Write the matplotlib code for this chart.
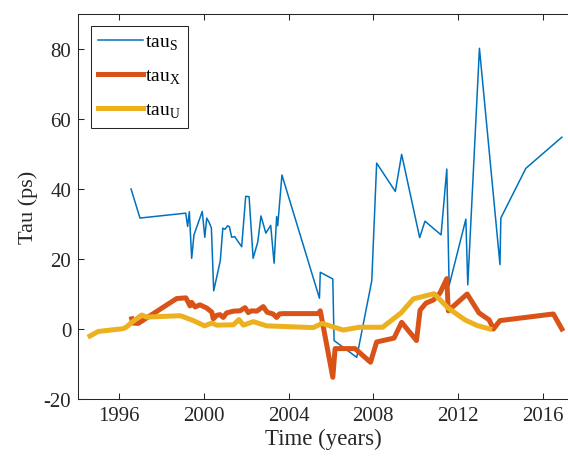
import numpy as np
import matplotlib
matplotlib.use("Agg")
import matplotlib.pyplot as plt

# tau_S (thin blue)
t_s = [1996.57, 1996.99, 1999.15, 1999.24, 1999.32, 1999.43, 1999.54, 1999.93,
       2000.05, 2000.14, 2000.25, 2000.36, 2000.47, 2000.78, 2000.90, 2001.00,
       2001.13, 2001.21, 2001.32, 2001.46, 2001.79, 2001.98, 2002.14, 2002.33,
       2002.55, 2002.70, 2002.93, 2003.16, 2003.32, 2003.44, 2003.49, 2003.69,
       2005.46, 2005.50, 2006.09, 2006.15, 2007.22, 2007.93, 2008.16, 2009.04,
       2009.34, 2010.19, 2010.44, 2011.20, 2011.47, 2011.58, 2012.37, 2012.46,
       2013.01, 2013.98, 2014.02, 2015.20, 2016.90]
tau_s = [40.0, 31.7, 33.1, 29.3, 33.5, 20.2, 26.9, 33.6,
         26.2, 31.7, 30.5, 28.9, 10.9, 19.5, 28.8, 28.5,
         29.5, 29.2, 26.2, 26.4, 23.5, 37.9, 37.8, 20.2,
         24.9, 32.3, 27.4, 29.6, 18.8, 32.1, 29.5, 44.0,
         8.8, 16.2, 14.3, -3.3, -8.1, 13.8, 47.4, 39.3,
         49.9, 26.1, 30.8, 26.9, 45.7, 12.4, 31.4, 12.6,
         80.2, 18.4, 31.7, 45.9, 54.8]

# tau_X (thick orange)
t_x = [1996.60, 1996.64, 1996.91, 1998.72, 1999.16, 1999.35, 1999.43, 1999.59,
       1999.82, 2000.14, 2000.38, 2000.45, 2000.61, 2000.77, 2000.92, 2001.08,
       2001.40, 2001.71, 2001.95, 2002.10, 2002.26, 2002.50, 2002.81, 2002.99,
       2003.27, 2003.44, 2003.57, 2003.76, 2005.41, 2005.50, 2006.09, 2006.20,
       2007.14, 2007.87, 2008.16, 2008.98, 2009.34, 2010.04, 2010.21, 2010.49,
       2010.84, 2011.15, 2011.47, 2011.54, 2012.43, 2012.99, 2013.47, 2013.67,
       2013.98, 2016.50, 2016.90]
tau_x = [2.9, 1.7, 1.6, 8.7, 8.9, 6.6, 7.6, 6.3,
         6.9, 6.0, 4.8, 2.9, 3.9, 4.1, 3.3, 4.6,
         5.1, 5.2, 6.1, 4.7, 5.2, 5.1, 6.4, 4.8,
         4.3, 3.3, 4.3, 4.4, 4.4, 5.2, -13.8, -5.6,
         -5.6, -9.5, -3.7, -2.6, 1.9, -3.3, 5.4, 7.4,
         8.3, 10.3, 14.4, 5.2, 10.0, 4.6, 2.6, 0.0,
         2.4, 4.3, 0.0]

# tau_U (thick yellow)
t_u = [1994.63, 1995.02, 1996.20, 1996.36, 1996.60, 1997.07, 1997.31, 1998.88,
       1999.12, 1999.51, 2000.04, 2000.38, 2000.61, 2001.40, 2001.66, 2001.87,
       2002.34, 2002.97, 2005.17, 2005.58, 2006.59, 2007.33, 2008.44, 2009.31,
       2009.89, 2010.87, 2011.53, 2012.33, 2012.90, 2013.50]
tau_u = [-2.0, -0.7, 0.1, 0.6, 1.9, 4.0, 3.4, 3.8,
         3.3, 2.4, 0.9, 1.7, 1.1, 1.2, 2.7, 1.1,
         2.1, 0.9, 0.4, 1.6, -0.3, 0.5, 0.5, 4.6,
         8.6, 10.1, 6.0, 2.6, 1.0, 0.0]

xticks = [1996, 2000, 2004, 2008, 2012, 2016]
yticks = [-20, 0, 20, 40, 60, 80]

plt.rcParams['font.family'] = ['Liberation Serif', 'DejaVu Serif']
plt.rcParams['mathtext.fontset'] = 'custom'
plt.rcParams['mathtext.rm'] = 'Liberation Serif'
plt.rcParams['axes.unicode_minus'] = False

axc = '#262626'
fig = plt.figure(figsize=(5.68, 4.6), dpi=100)
ax = fig.add_axes([78.3 / 568, 60 / 460, (568 - 78.3) / 568, 385 / 460])

ax.plot(t_s, tau_s, color='#0072BD', lw=1.1, label=r'tau$_\mathregular{S}$')
ax.plot(t_x, tau_x, color='#D95319', lw=3.6, label=r'tau$_\mathregular{X}$')
ax.plot(t_u, tau_u, color='#EDB120', lw=3.6, label=r'tau$_\mathregular{U}$')

ax.set_xlim(1994.08, 2017.19)
ax.set_ylim(-20, 90)
ax.set_xticks(xticks)
ax.set_yticks(yticks)
ax.tick_params(direction='in', length=4.5, width=0.75, colors=axc,
               labelsize=15, top=True, right=False, pad=5)
for lbl in ax.get_xticklabels() + ax.get_yticklabels():
    lbl.set_color(axc)
for side in ['left', 'bottom', 'top']:
    ax.spines[side].set_color(axc)
    ax.spines[side].set_linewidth(0.75)
ax.spines['right'].set_visible(False)

ax.set_xlabel('Time (years)', fontsize=16.5, color=axc, labelpad=2)
ax.set_ylabel('Tau (ps)', fontsize=16, color=axc, labelpad=4)

leg = ax.legend(loc='upper left', bbox_to_anchor=(12.7 / 489.7, 1 - 11.7 / 385),
                fontsize=14, handlelength=2.3, handletextpad=0.12,
                labelspacing=0.78, borderpad=0.38, borderaxespad=0,
                fancybox=False, framealpha=1, edgecolor=axc)
leg.get_frame().set_linewidth(0.75)

fig.savefig('out.png', dpi=100)
